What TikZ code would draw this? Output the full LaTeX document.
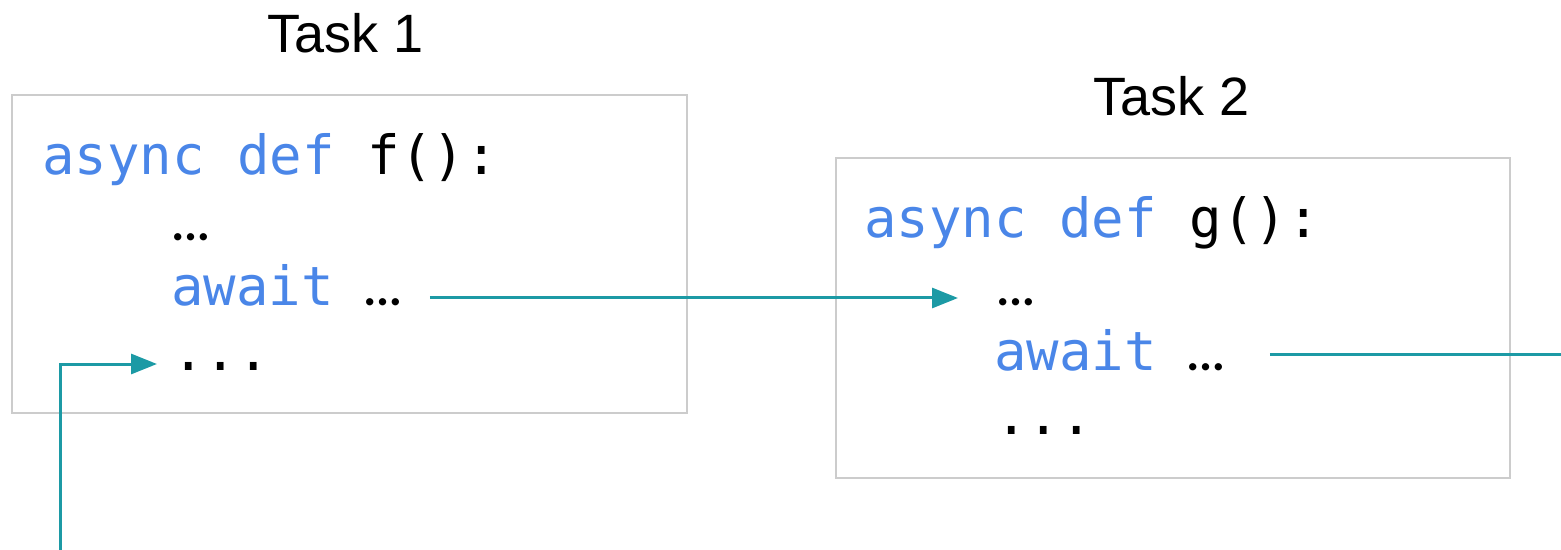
\documentclass[tikz,border=0pt]{standalone}
\usepackage{fontspec}
\setmainfont{Liberation Sans}
\newfontfamily\codefont{DejaVu Sans Mono}
\newfontfamily\dotfont{Lato}
\usetikzlibrary{arrows.meta}

\definecolor{kw}{HTML}{4A86E8}
\definecolor{flowc}{HTML}{1C9AA5}
\definecolor{frame}{HTML}{CCCCCC}

\newcommand{\kw}[1]{\textcolor{kw}{#1}}
% compact ellipsis, one code cell wide
\newcommand{\elide}{\makebox[0.602em]{\dotfont\bfseries\fontsize{24pt}{28pt}\selectfont …}}

\tikzset{
  codebox/.style={draw=frame, line width=1pt},
  code/.style={anchor=base west, inner sep=0pt, font=\codefont\fontsize{27pt}{32pt}\selectfont},
  title/.style={anchor=base, inner sep=0pt, font=\fontsize{27pt}{32pt}\selectfont},
  flow/.style={draw=flowc, line width=1.5pt, -{Triangle[length=13pt,width=10pt]}},
  flowline/.style={draw=flowc, line width=1.5pt}
}

\begin{document}
\begin{tikzpicture}[x=0.5pt,y=-0.5pt]
  \useasboundingbox (0,0) rectangle (1561,550);

  % task 1
  \node[title] (t1) at (345.5,53) {Task 1};
  \draw[codebox] (12,95) rectangle (687,413);
  \node[code] (f1) at (42,175) {\kw{async def} f():};
  \node[code] (e1) at (174,241) {\elide};
  \node[code] (aw1) at (171,306) {\kw{await} \elide};
  \node[code] (dots1) at (172,371) {...};

  % task 2
  \node[title] (t2) at (1171.5,116) {Task 2};
  \draw[codebox] (836,158) rectangle (1510,478);
  \node[code] (g2) at (864,238) {\kw{async def} g():};
  \node[code] (e2) at (999,306) {\elide};
  \node[code] (aw2) at (994,370) {\kw{await} \elide};
  \node[code] (dots2) at (995,434) {...};

  % free ends of the control flow
  \coordinate (rightend) at (1561,0);
  \coordinate (bottomend) at (60,550);
  \coordinate (into2) at ([shift={(-41,0)}]e2.west);

  % control passes from task 1 to task 2
  \draw[flow] ([shift={(30.5,-8)}]aw1.base east) coordinate (s1)
     -- (s1 -| into2);
  % task 2 suspends and hands control onwards
  \draw[flowline] ([shift={(47.5,-16)}]aw2.base east) coordinate (s2)
     -- (s2 -| rightend);
  % control comes back to task 1
  \draw[flow] (bottomend) |- ([shift={(-15,-7)}]dots1.base west);
\end{tikzpicture}
\end{document}
